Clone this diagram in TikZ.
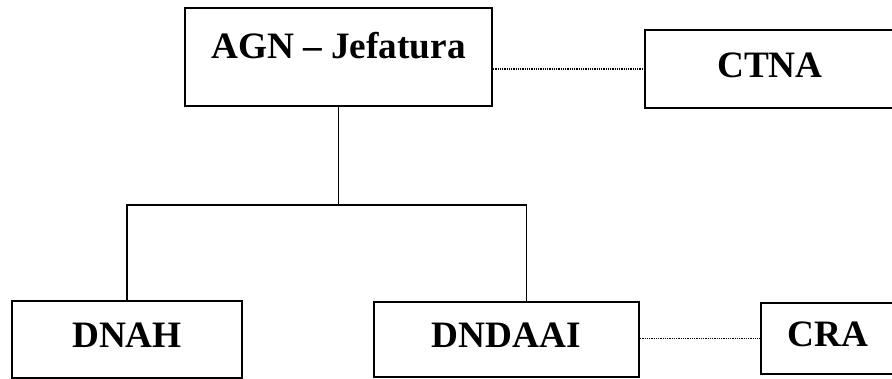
\documentclass[tikz,border=0pt]{standalone}
\usepackage{fontspec}
\setmainfont{Liberation Serif}
\usetikzlibrary{positioning,calc}
\tikzset{
    % Organisation unit box
    orgbox/.style={
        rectangle,
        draw=black,
        line width=1.4pt,
        fill=white,
        font=\fontsize{26.5}{30}\selectfont\bfseries,
        align=center,
        inner sep=0pt,
        text depth=0.2cm
    },
    % Hierarchy line
    orgline/.style={
        line width=1pt,
        color=black
    },
    % Coordination line (dotted)
    coordline/.style={
        line width=1pt,
        dash pattern=on 0.9pt off 0.7pt,
        color=black
    }
}
\begin{document}
\begin{tikzpicture}[x=0.025cm, y=-0.025cm]

    % Page frame
    \fill[white] (0,0) rectangle (892,379);
    \clip (0,0) rectangle (892,379);

    % Top level
    \node[orgbox, minimum width=7.675cm, minimum height=2.45cm, text depth=0.6cm] (agn) at (338.5,57) {AGN -- Jefatura};
    \node[orgbox, minimum width=6.25cm, minimum height=1.95cm] (ctna) at (770,69) {CTNA};

    % Lower level
    \node[orgbox, minimum width=5.75cm, minimum height=1.925cm] (dnah) at (127,339.5) {DNAH};
    \node[orgbox, minimum width=6.625cm, minimum height=1.875cm] (dndaai) at (506.5,339.5) {DNDAAI};
    \node[orgbox, minimum width=3.35cm, minimum height=1.775cm, text width=2.9cm] (cra) at (828,338.5) {CRA};

    % Branch point
    \coordinate (hub) at (338.5,205);

    % Hierarchy lines
    \draw[orgline] (agn.south) -- (hub);
    \draw[orgline] (hub) -| (dnah.north);
    \draw[orgline] (hub) -| ([xshift=0.5cm]dndaai.north);

    % Coordination lines
    \draw[coordline] (agn.east |- ctna.west) -- (ctna.west);
    \draw[coordline] (dndaai.east |- cra.west) -- (cra.west);

\end{tikzpicture}
\end{document}
